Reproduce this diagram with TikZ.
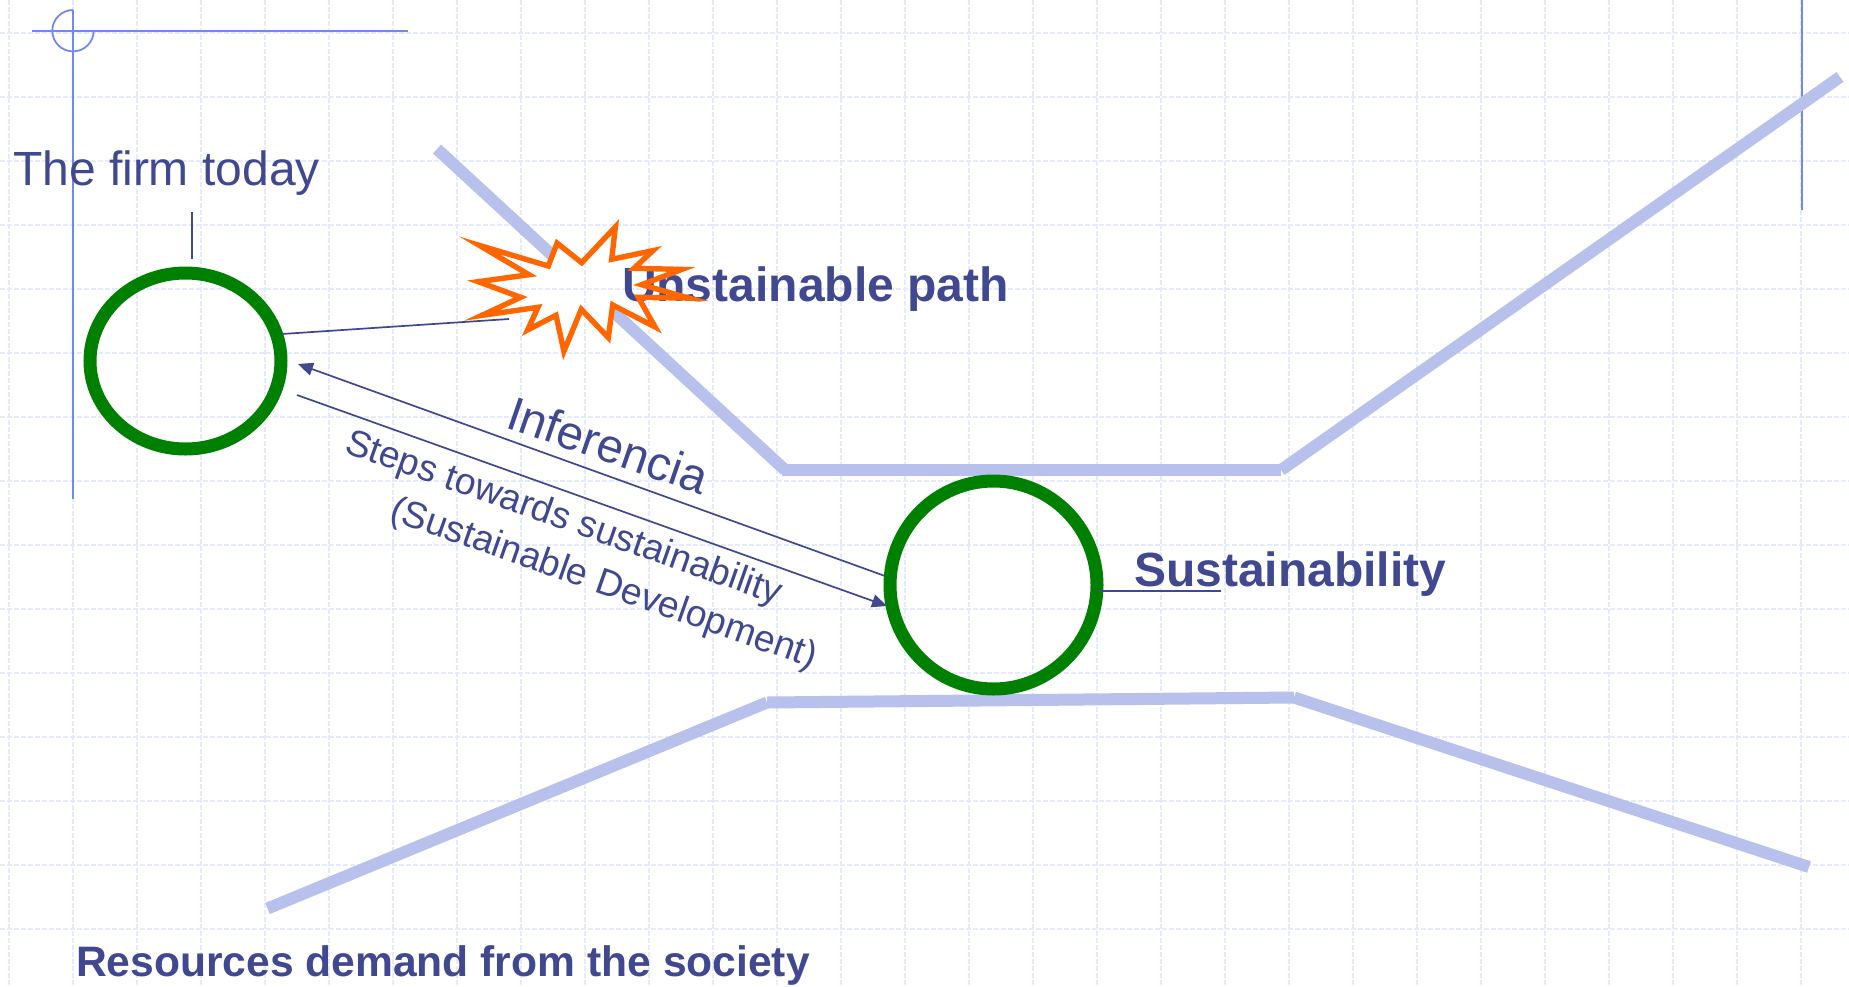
\documentclass[tikz,border=0pt]{standalone}
\usepackage{fontspec}
\setmainfont{Liberation Sans}
\usetikzlibrary{arrows.meta,shapes.geometric}
\definecolor{inkblue}{HTML}{404890}
\definecolor{gridblue}{HTML}{E5EAFC}
\definecolor{pathblue}{HTML}{B7C1EC}
\definecolor{guideblue}{HTML}{7389F0}
\definecolor{ringgreen}{HTML}{008000}
\definecolor{burstorange}{HTML}{FF6600}
\tikzset{
  gridline/.style={gridblue,line width=1.5pt,dash pattern=on 4.5pt off 2.5pt},
  guide/.style={guideblue,line width=1.8pt},
  pathband/.style={pathblue,line width=12pt,line cap=butt},
  ring/.style={draw=ringgreen,ellipse,line width=13pt,inner sep=0pt,outer sep=0pt},
  leader/.style={inkblue,line width=1.7pt},
  linkarrow/.style={inkblue,line width=1.7pt,-{Triangle[length=15pt,width=13pt]}},
  lab/.style={text=inkblue,inner sep=0pt,outer sep=0pt},
  regular/.style={lab,font=\fontsize{48}{58}\selectfont},
  strong/.style={lab,font=\fontsize{48}{58}\selectfont\bfseries},
  tilted/.style={lab,font=\fontsize{37.3}{44}\selectfont,anchor=base west,rotate=-19.4}
}
\newcommand{\burstshape}{(479.4,245.4) -- (548.3,266) -- (557.1,243.1) -- (581.7,262.7) -- (615.4,226.9) -- (611.7,259.3) -- (653,250.6) -- (634,268.3) -- (681.8,269.4) -- (641.7,284.7) -- (688.8,298.1) -- (638.3,297.3) -- (655.1,327) -- (612.7,305) -- (608.3,337.6) -- (581.3,309.3) -- (563.9,351.3) -- (556,315.3) -- (527.6,330) -- (538,307.3) -- (481.8,315.4) -- (520.7,297.3) -- (478.2,281.7) -- (529,274.7) -- cycle}
\begin{document}
\begin{tikzpicture}[x=1pt,y=-1pt]
\useasboundingbox (0,0) rectangle (1849,986);
\clip (0,0) rectangle (1849,986);
\fill[white] (0,0) rectangle (1849,986);
% background grid
\foreach \gx in {9,73,...,1849} {\draw[gridline] (\gx,0) -- (\gx,986);}
\foreach \gy in {33,97,...,986} {\draw[gridline] (0,\gy) -- (1849,\gy);}
% guides
\coordinate (hA) at (32,31);
\coordinate (hB) at (408,31);
\coordinate (vA) at (73,10);
\coordinate (vB) at (73,499);
\coordinate (rA) at (1802,0);
\coordinate (rB) at (1802,210);
\draw[guide] (hA) -- (hB);
\draw[guide] (vA) -- (vB);
\draw[guide] (rA) -- (rB);
\draw[guide] (vA) arc[start angle=-90,end angle=-360,radius=20.7];
% upper band
\coordinate (u1) at (437,149);
\coordinate (u2) at (785,470);
\coordinate (u3) at (1281,470);
\coordinate (u4) at (1840,77);
\draw[pathband] (u1) -- (u2);
\draw[pathband] (782,470) -- (u3);
\draw[pathband] (u3) -- (u4);
% lower band
\coordinate (l1) at (267.5,908.5);
\coordinate (l2) at (767,702.5);
\coordinate (l3) at (1294,697.5);
\coordinate (l4) at (1809,867);
\draw[pathband] (l1) -- (l2);
\draw[pathband] (l2) -- (l3);
\draw[pathband] (l3) -- (l4);
% burst body with grid showing through
\fill[white] \burstshape;
\begin{scope}
\clip \burstshape;
\foreach \gx in {457,521,585,649,713} {\draw[gridline] (\gx,200) -- (\gx,380);}
\foreach \gy in {225,289,353} {\draw[gridline] (440,\gy) -- (720,\gy);}
\end{scope}
% rings
\node[ring,minimum width=191pt,minimum height=176pt] (firm) at (185.5,361) {};
\node[ring,minimum width=207pt,minimum height=208pt] (goal) at (993.5,585) {};
% labels
\node[regular,anchor=base west] (firmlabel) at (13,185) {The firm today};
\node[strong,anchor=base west] (unsust) at (622,301) {Unstainable path};
\node[strong,anchor=base west] (sust) at (1134,586) {Sustainability};
\node[lab,font=\fontsize{42.6}{50}\selectfont\bfseries,anchor=base west] (resources) at (76,976) {Resources demand from the society};
\node[lab,font=\fontsize{47.5}{56}\selectfont,anchor=base west,rotate=-19] (inf) at (504,427) {Inferencia};
\node[tilted] (stepsA) at (343,452) {Steps towards sustainability};
\node[tilted] (stepsB) at (388,519) {(Sustainable Development)};
% burst outline
\draw[burstorange,line width=5.4pt,miter limit=14] \burstshape;
% connectors
\coordinate (firmtop) at (192,212);
\coordinate (firmbot) at (192,259);
\coordinate (crashA) at (282,334);
\coordinate (crashB) at (509,319);
\coordinate (sustA) at (1098,591);
\coordinate (sustB) at (1221,591);
\coordinate (backA) at (885,576);
\coordinate (backB) at (298,364);
\coordinate (fwdA) at (297,395);
\coordinate (fwdB) at (887,606);
\draw[leader] (firmtop) -- (firmbot);
\draw[leader] (crashA) -- (crashB);
\draw[leader] (sustA) -- (sustB);
\draw[linkarrow] (backA) -- (backB);
\draw[linkarrow] (fwdA) -- (fwdB);
\end{tikzpicture}
\end{document}
